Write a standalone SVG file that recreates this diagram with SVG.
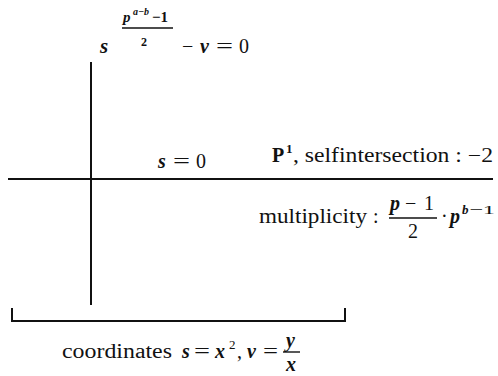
<svg xmlns="http://www.w3.org/2000/svg" width="498" height="376" viewBox="0 0 498 376">
<style>
.t{font-family:"Liberation Serif",serif;font-size:20px;fill:#111}
.m{font-style:italic;font-weight:bold}
.b{font-weight:bold}
.sup{font-size:13px}
.f15{font-size:15px}
.f10{font-size:10px}
.f12{font-size:12px}
.f21{font-size:21px}
.ln{stroke:#111;stroke-width:2;fill:none}
.bar{stroke:#111;stroke-width:1.4}
</style>
<rect width="498" height="376" fill="#fff"/>
<g id="connectors">
<line class="ln" x1="91" y1="62" x2="91" y2="305"/>
<line class="ln" x1="8" y1="179" x2="493" y2="179"/>
<polyline class="ln" points="12,308 12,321 345,321 345,308"/>
</g>
<g id="label-top">
<text class="t m f21" x="100" y="53">s</text>
<text class="t m f15" x="123" y="22">p</text>
<text class="t m f10" x="133" y="15">a−b</text>
<text class="t b f15" x="152" y="22">−1</text>
<line class="bar" x1="122" y1="28" x2="173" y2="28"/>
<text class="t b f12" x="141" y="46">2</text>
<text class="t" x="182" y="53">−</text>
<text class="t m" x="200" y="53">v</text>
<text class="t" x="216" y="53" textLength="17" lengthAdjust="spacingAndGlyphs">=</text>
<text class="t" x="239" y="53">0</text>
</g>
<g id="label-s0">
<text class="t m" x="158" y="168">s</text>
<text class="t" x="173" y="168" textLength="17" lengthAdjust="spacingAndGlyphs">=</text>
<text class="t" x="196" y="168">0</text>
</g>
<g id="label-p1">
<text class="t b" x="272" y="162">P</text>
<text class="t b sup" x="286" y="153">1</text>
<text class="t" x="293" y="162" textLength="200" lengthAdjust="spacingAndGlyphs">, selfintersection : −2</text>
</g>
<g id="label-mult">
<text class="t" x="259" y="223" textLength="108" lengthAdjust="spacingAndGlyphs">multiplicity</text>
<text class="t" x="373" y="223">:</text>
<text class="t m" x="390" y="210">p</text>
<text class="t" x="405" y="210">−</text>
<text class="t" x="424" y="210">1</text>
<line class="bar" x1="389" y1="218" x2="437" y2="218"/>
<text class="t" x="408" y="238">2</text>
<text class="t" x="441" y="223">·</text>
<text class="t m" x="450" y="223">p</text>
<text class="t m sup" x="462" y="214">b</text>
<text class="t sup" x="469" y="214" textLength="26" lengthAdjust="spacingAndGlyphs">−1</text>
</g>
<g id="label-coords">
<text class="t" x="62" y="358" textLength="110" lengthAdjust="spacingAndGlyphs">coordinates</text>
<text class="t m" x="182" y="358">s</text>
<text class="t" x="194" y="358" textLength="16" lengthAdjust="spacingAndGlyphs">=</text>
<text class="t m" x="215" y="358">x</text>
<text class="t sup" x="229" y="349">2</text>
<text class="t" x="237" y="358">,</text>
<text class="t m" x="247" y="358">v</text>
<text class="t" x="263" y="358" textLength="15" lengthAdjust="spacingAndGlyphs">=</text>
<text class="t m" x="286" y="347">y</text>
<line class="bar" x1="283" y1="352" x2="300" y2="352"/>
<text class="t m" x="286" y="371">x</text>
</g>
</svg>
